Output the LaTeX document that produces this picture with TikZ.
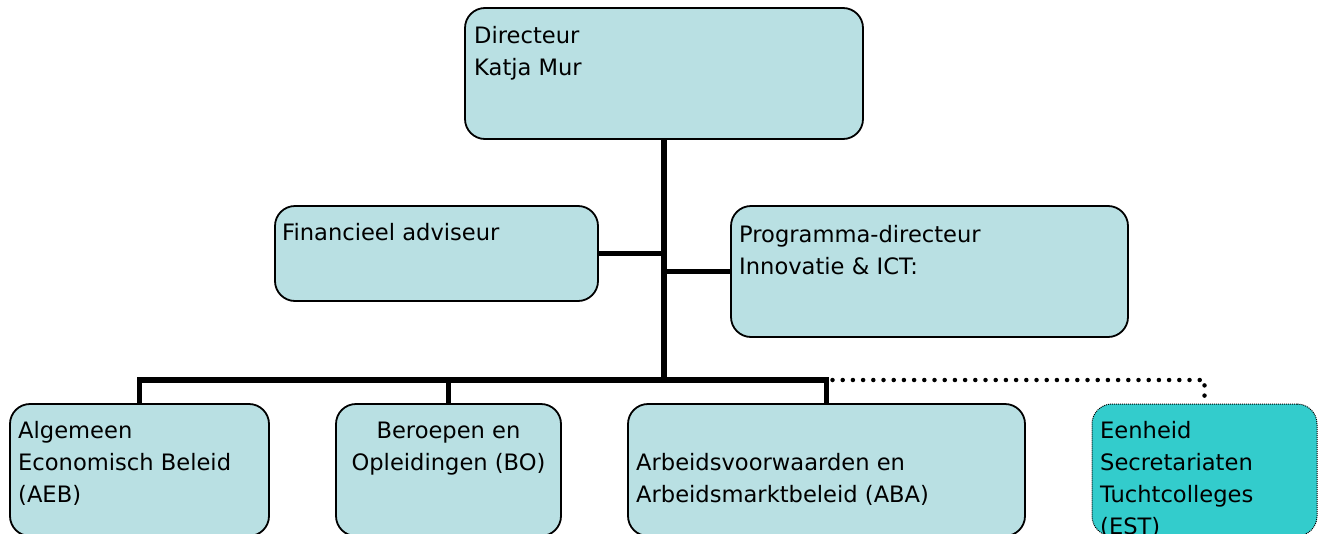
\documentclass[tikz,border=0pt]{standalone}
\usepackage{fontspec}
\setmainfont{DejaVu Sans}
\definecolor{boxfill}{RGB}{185,224,227}
\definecolor{estfill}{RGB}{51,204,204}
\begin{document}
\begin{tikzpicture}[x=1pt,y=-1pt,
  orgbox/.style={draw=black,line width=1.8pt,rounded corners=20pt,fill=boxfill,
    inner sep=0pt,minimum width=#1},
  label/.style={inner sep=0pt,font=\fontsize{22.6}{32}\selectfont,align=left},
  link/.style={line width=5.8pt,draw=black},
  duty/.style={line width=4.5pt,line cap=round,dash pattern=on 0pt off 10.2pt}]
\useasboundingbox (0,0) rectangle (1325,533);
\clip (0,0) rectangle (1325,533);

% boxes
\node[orgbox=398pt,minimum height=131pt] (dir)  at (664,73.5)  {};
\node[orgbox=323pt,minimum height=95pt]  (fin)  at (436.5,253.5) {};
\node[orgbox=397pt,minimum height=131pt] (prog) at (929.5,271.5) {};
\node[orgbox=259pt,minimum height=132pt] (aeb)  at (139.5,470) {};
\node[orgbox=225pt,minimum height=132pt] (bo)   at (448.5,470) {};
\node[orgbox=397pt,minimum height=132pt] (aba)  at (826.5,470) {};
\node[orgbox=225pt,minimum height=132pt,fill=estfill,line width=1pt,
      dash pattern=on 1pt off 1pt] (est) at (1204.5,470) {};

% texts
\node[label,anchor=north west] (tdir)  at (474,20.6)  {\strut Directeur\\\strut Katja Mur};
\node[label,anchor=north west] (tfin)  at (282,217.6) {\strut Financieel adviseur};
\node[label,anchor=north west] (tprog) at (739,219.6) {\strut Programma-directeur\\\strut Innovatie \& ICT:};
\node[label,anchor=north west] (taeb)  at (18,415.6)  {\strut Algemeen\\\strut Economisch Beleid\\\strut (AEB)};
\node[label,align=center,anchor=north] (tbo) at (448.5,415.6) {\strut Beroepen en\\\strut Opleidingen (BO)};
\node[label,anchor=north west] (taba)  at (636,447.6)  {\strut Arbeidsvoorwaarden en\\\strut Arbeidsmarktbeleid (ABA)};
\node[label,anchor=north west] (test)  at (1100,415.6) {\strut Eenheid\\\strut Secretariaten\\\strut Tuchtcolleges\\\strut (EST)};

% connectors
\coordinate (bus) at (664,380);
\draw[link] (dir.south) -- (bus);
\draw[link] (fin.east) -- (fin.east -| dir.south);
\draw[link] (prog.west) -- (prog.west -| dir.south);
\draw[link] (aeb.north) |- (aba.north |- bus) -- (aba.north);
\draw[link] (bo.north) -- (bo.north |- bus);
\draw[duty] ([xshift=6pt]aba.north |- bus) -| (est.north);
\end{tikzpicture}
\end{document}
